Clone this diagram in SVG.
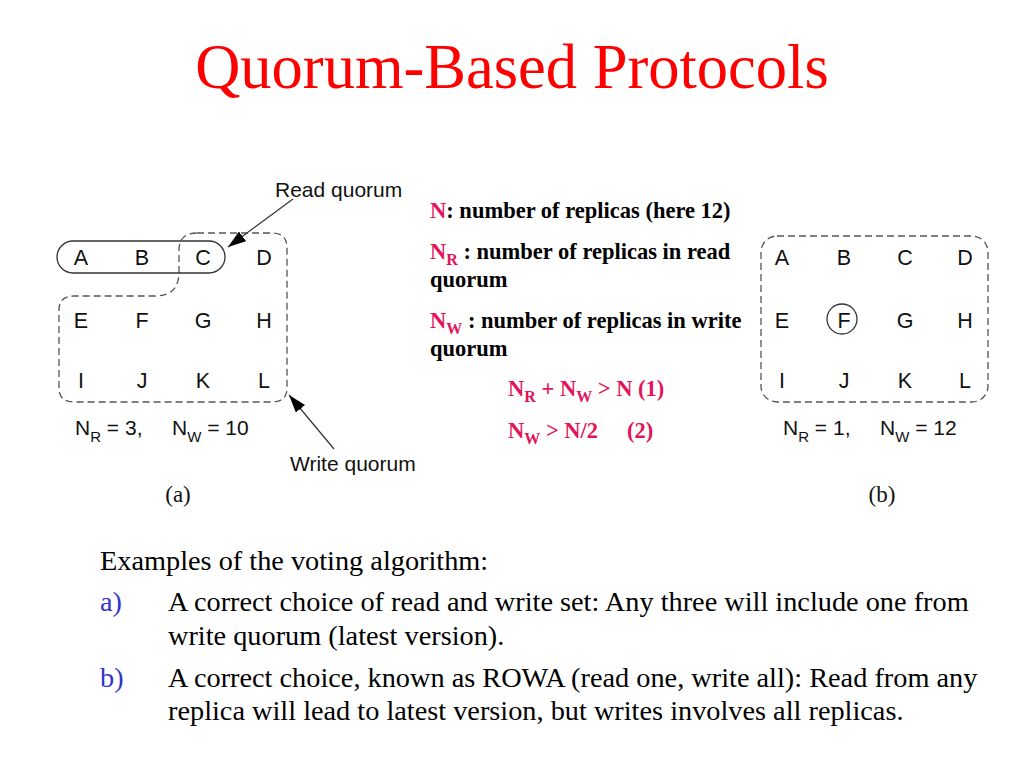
<svg xmlns="http://www.w3.org/2000/svg" width="1024" height="768" viewBox="0 0 1024 768">
<defs>
<style>
.title{font-family:"Liberation Serif",serif;font-size:62.5px;fill:#ff0000;}
.lt{font-family:"Liberation Sans",Arial,sans-serif;font-size:21.5px;fill:#111;}
.lab{font-family:"Liberation Sans",Arial,sans-serif;font-size:21px;fill:#111;}
.cap{font-family:"Liberation Serif",serif;font-size:23px;fill:#111;}
.def{font-family:"Liberation Serif",serif;font-size:22.5px;font-weight:bold;fill:#000;}
.pk{fill:#e3145a;}
.body{font-family:"Liberation Serif",serif;font-size:28.3px;fill:#000;}
.bl{fill:#3333cc;}
.dash{fill:none;stroke:#555;stroke-width:1.3;stroke-dasharray:7,4;}
.solid{fill:none;stroke:#333;stroke-width:1.3;}
.arr{stroke:#333;stroke-width:1.2;fill:none;}
</style>
<marker id="ah" markerWidth="18" markerHeight="12" refX="18" refY="6" orient="auto" markerUnits="userSpaceOnUse">
<path d="M0,0 L18,6 L0,12 Z" fill="#000"/>
</marker>
</defs>
<rect width="1024" height="768" fill="#fff"/>
<text class="title" x="512" y="88" text-anchor="middle">Quorum-Based Protocols</text>

<g id="diagram-a">
<g id="write-quorum-a"><path class="dash" d="M197,233 H272 Q287,233 287,248 V388 Q287,402 272,402 H74 Q59,402 59,388 V310 Q59,296 74,296 H155 Q179,296 179,272 V250 Q179,233 197,233 Z"/></g>
<g id="read-quorum-a"><rect class="solid" x="57" y="241" width="168" height="32" rx="16" ry="16"/></g>
<g id="letters-a" text-anchor="middle">
<text class="lt" x="81" y="265">A</text><text class="lt" x="142" y="265">B</text><text class="lt" x="203" y="265">C</text><text class="lt" x="264" y="265">D</text>
<text class="lt" x="81" y="328">E</text><text class="lt" x="142" y="328">F</text><text class="lt" x="203" y="328">G</text><text class="lt" x="264" y="328">H</text>
<text class="lt" x="81" y="388">I</text><text class="lt" x="142" y="388">J</text><text class="lt" x="203" y="388">K</text><text class="lt" x="264" y="388">L</text>
</g>
<g id="label-read"><text class="lab" x="275" y="197">Read quorum</text></g>
<g id="label-write"><text class="lab" x="290" y="471">Write quorum</text></g>
<text class="lab" x="75" y="435">N<tspan dy="7" font-size="15">R</tspan><tspan dy="-7"> = 3,</tspan><tspan x="172">N</tspan><tspan dy="7" font-size="15">W</tspan><tspan dy="-7"> = 10</tspan></text>
<text class="cap" x="178" y="502" text-anchor="middle">(a)</text>
</g>

<g id="connectors">
<line class="arr" x1="293" y1="199" x2="228" y2="247" marker-end="url(#ah)"/>
<line class="arr" x1="334" y1="449" x2="289" y2="395" marker-end="url(#ah)"/>
</g>

<g id="definitions">
<text class="def" x="430" y="218"><tspan class="pk">N</tspan>: number of replicas (here 12)</text>
<text class="def" x="430" y="259"><tspan class="pk">N</tspan><tspan class="pk" dy="6" font-size="16">R</tspan><tspan dy="-6"> : number of replicas in read</tspan></text>
<text class="def" x="430" y="287">quorum</text>
<text class="def" x="430" y="328"><tspan class="pk">N</tspan><tspan class="pk" dy="6" font-size="16">W</tspan><tspan dy="-6"> : number of replicas in write</tspan></text>
<text class="def" x="430" y="356">quorum</text>
<text class="def pk" x="508" y="396">N<tspan dy="6" font-size="16">R</tspan><tspan dy="-6"> + N</tspan><tspan dy="6" font-size="16">W</tspan><tspan dy="-6"> &gt; N (1)</tspan></text>
<text class="def pk" x="508" y="438">N<tspan dy="6" font-size="16">W</tspan><tspan dy="-6"> &gt; N/2</tspan><tspan x="627">(2)</tspan></text>
</g>

<g id="diagram-b">
<g id="write-quorum-b"><rect class="dash" x="761" y="236" width="227" height="166" rx="16" ry="16"/></g>
<g id="read-quorum-b"><circle class="solid" cx="842" cy="319" r="15"/></g>
<g id="letters-b" text-anchor="middle">
<text class="lt" x="782" y="265">A</text><text class="lt" x="844" y="265">B</text><text class="lt" x="905" y="265">C</text><text class="lt" x="965" y="265">D</text>
<text class="lt" x="782" y="328">E</text><text class="lt" x="844" y="328">F</text><text class="lt" x="905" y="328">G</text><text class="lt" x="965" y="328">H</text>
<text class="lt" x="782" y="388">I</text><text class="lt" x="844" y="388">J</text><text class="lt" x="905" y="388">K</text><text class="lt" x="965" y="388">L</text>
</g>
<text class="lab" x="783" y="435">N<tspan dy="7" font-size="15">R</tspan><tspan dy="-7"> = 1,</tspan><tspan x="880">N</tspan><tspan dy="7" font-size="15">W</tspan><tspan dy="-7"> = 12</tspan></text>
<text class="cap" x="882" y="502" text-anchor="middle">(b)</text>
</g>

<g id="examples">
<text class="body" x="100" y="570">Examples of the voting algorithm:</text>
<text class="body bl" x="100" y="611">a)</text>
<text class="body" x="168" y="611">A correct choice of read and write set: Any three will include one from</text>
<text class="body" x="168" y="645">write quorum (latest version).</text>
<text class="body bl" x="100" y="687">b)</text>
<text class="body" x="168" y="687">A correct choice, known as ROWA (read one, write all): Read from any</text>
<text class="body" x="168" y="720">replica will lead to latest version, but writes involves all replicas.</text>
</g>
</svg>
